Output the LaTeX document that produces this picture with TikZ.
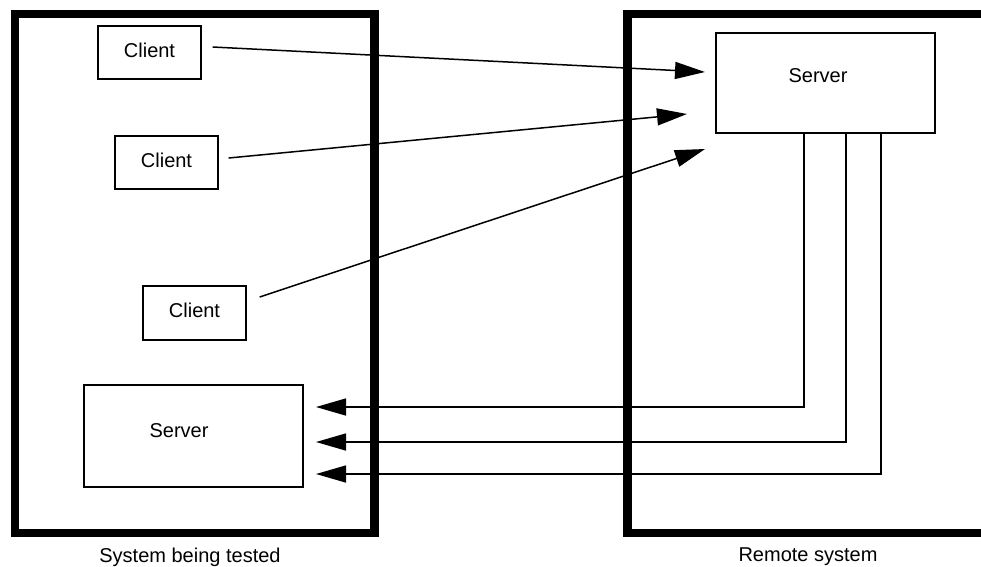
\documentclass[tikz,border=0pt]{standalone}
\usepackage{fontspec}
\setmainfont{Liberation Sans}
\usetikzlibrary{arrows.meta}
\begin{document}
\begin{tikzpicture}[x=1pt,y=-1pt,
  sysbox/.style={line width=8.5pt},
  compbox/.style={draw, line width=1.3pt, inner sep=0pt, font=\fontsize{20}{24}\selectfont},
  clientbox/.style={compbox, minimum width=103pt, minimum height=53pt, text height=14pt, text depth=5pt},
  lbl/.style={anchor=base, inner sep=0pt, font=\fontsize{20}{24}\selectfont},
  conn/.style={line width=1.5pt, -{Triangle[length=30pt,width=17pt]}}
]
\useasboundingbox (0,0) rectangle (981,566);
\clip (0,0) rectangle (981,566);
% system boxes
\draw[sysbox] (15,14) rectangle (374.5,533);
\draw[sysbox] (627.5,14) rectangle (1010,533);
\node[lbl] (lblL) at (190,562) {System being tested};
\node[lbl] (lblR) at (808,561) {Remote system};
% clients
\node[clientbox] (c1) at (149.5,52.5) {Client};
\node[clientbox] (c2) at (166.5,162.5) {Client};
\node[clientbox, minimum height=54pt] (c3) at (194.5,313) {Client};
% servers
\node[compbox, minimum width=219pt, minimum height=100pt] (srvR) at (825.5,83) {};
\node[lbl] (srvRt) at (818,82) {Server};
\node[compbox, minimum width=219pt, minimum height=102pt] (srvL) at (193.5,436) {};
\node[lbl] (srvLt) at (179,437) {Server};
% arrow target points
\coordinate (t1) at (705,72);
\coordinate (t2) at (687,114);
\coordinate (t3) at (705,149);
\coordinate (r1) at (316,407);
\coordinate (r2) at (316,442);
\coordinate (r3) at (316,474);
% client -> server
\draw[conn] ([shift={(11,-5.5)}]c1.east) -- (t1);
\draw[conn] ([shift={(10,-4.5)}]c2.east) -- (t2);
\draw[conn] ([shift={(13,-16)}]c3.east) -- (t3);
% server -> server
\draw[conn] ([xshift=-21.5pt]srvR.south) |- (r1);
\draw[conn] ([xshift=20.5pt]srvR.south) |- (r2);
\draw[conn] ([xshift=55.5pt]srvR.south) |- (r3);
\end{tikzpicture}
\end{document}
